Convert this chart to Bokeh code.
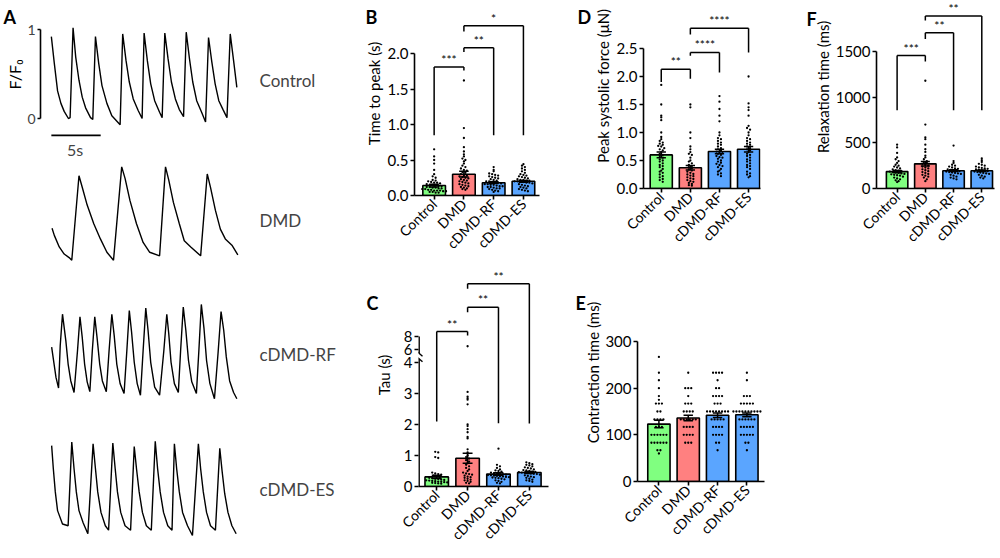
import math
from bokeh.plotting import figure
from bokeh.models import Range1d, FixedTicker, Label, Spacer
from bokeh.layouts import row, column
from bokeh.embed import file_html
from bokeh.resources import INLINE
from bokeh.core.properties import value

FONT = "Lato"
GROUPS = ["Control", "DMD", "cDMD-RF", "cDMD-ES"]
BAR_COLORS = ["#80FF80", "#FF8080", "#5AA5FF", "#5AA5FF"]

# ---------------- Panel A: calcium transients (time s, F/F0) ----------------
ctrl_t = [0.0, 0.3, 0.63, 0.97, 1.3, 1.73, 1.9, 2.2, 2.47, 2.8, 3.13, 3.47, 3.97, 4.2,
          4.47, 4.8, 5.13, 5.63, 6.13, 6.97, 7.23, 7.57, 7.9, 8.3, 8.8, 9.2, 9.4, 9.73,
          10.07, 10.47, 10.97, 11.23, 11.5, 11.83, 12.17, 12.57, 12.97, 13.4, 13.67, 14.0,
          14.33, 14.73, 15.23, 15.63, 15.93, 16.27, 16.6, 16.97, 17.4, 17.8, 18.13, 18.47, 18.8]
ctrl_v = [0.92, 0.62, 0.31, 0.17, 0.08, 0.0, 0.01, 1.02, 0.69, 0.43, 0.24, 0.12, 0.01, -0.01,
          0.92, 0.62, 0.37, 0.17, 0.03, -0.07, 0.95, 0.65, 0.41, 0.22, 0.09, 0.0, 0.96, 0.65,
          0.39, 0.2, 0.07, 0.01, 0.96, 0.67, 0.41, 0.22, 0.1, 0.02, 0.97, 0.67,
          0.41, 0.2, 0.07, -0.04, 0.91, 0.63, 0.39, 0.2, 0.1, 0.01, 0.95, 0.65, 0.35]
dmd_t = [0.07, 0.3, 0.8, 1.3, 1.8, 2.07, 2.8, 3.13, 3.63, 4.3, 4.97, 5.63, 6.3, 7.13, 7.47,
         7.97, 8.63, 9.3, 9.97, 10.97, 11.57, 11.9, 12.37, 12.97, 13.47, 14.13, 15.13, 15.8,
         16.13, 16.63, 17.13, 17.63, 18.3, 18.9]
dmd_v = [0.34, 0.26, 0.13, 0.05, 0.01, -0.02, 0.93, 0.8, 0.6, 0.39, 0.22, 0.07, -0.02, 1.03, 0.9,
         0.65, 0.39, 0.18, 0.07, 0.03, 1.03, 0.88, 0.63, 0.39, 0.2, 0.13, 0.03, 0.95,
         0.8, 0.54, 0.33, 0.22, 0.15, 0.04]
rf_t = [0.03, 0.47, 0.73, 0.9, 1.13, 1.47, 1.7, 1.97, 2.3, 2.65, 2.9, 3.13, 3.37, 3.63, 3.9,
        4.15, 4.4, 4.63, 4.9, 5.17, 5.57, 5.85, 6.13, 6.37, 6.63, 6.97, 7.37, 7.65, 7.9, 8.13,
        8.4, 8.7, 9.03, 9.3, 9.57, 9.8, 10.07, 10.47, 10.97, 11.4, 11.7, 11.9, 12.13, 12.47,
        12.87, 13.1, 13.37, 13.63, 13.9, 14.23, 14.7, 14.95, 15.2, 15.47, 15.73, 16.07, 16.53,
        16.9, 17.2, 17.47, 17.73, 18.07, 18.47, 18.8]
rf_v = [0.51, 0.17, 0.05, 0.53, 0.88, 0.58, 0.32, 0.13, 0.0, 0.47, 0.85, 0.62, 0.32, 0.12, 0.01,
        0.47, 0.85, 0.62, 0.32, 0.13, 0.01, 0.47, 0.88, 0.64, 0.32, 0.1, -0.01, 0.47, 0.92, 0.68,
        0.34, 0.1, -0.03, 0.47, 0.95, 0.7, 0.34, 0.06, -0.03, 0.47, 0.88, 0.66, 0.34, 0.1,
        0.0, 0.47, 0.96, 0.7, 0.36, 0.12, -0.01, 0.47, 0.99, 0.72, 0.36, 0.1, -0.07,
        0.45, 0.91, 0.7, 0.4, 0.13, 0.0, -0.07]
es_t = [0.03, 0.2, 0.4, 0.63, 1.13, 1.7, 2.07, 2.3, 2.53, 2.8, 3.23, 3.7, 4.23, 4.47, 4.7, 5.03,
        5.47, 5.8, 6.23, 6.47, 6.7, 7.03, 7.47, 8.03, 8.4, 8.63, 8.9, 9.23, 9.63, 10.13, 10.53,
        10.77, 11.03, 11.37, 11.8, 12.23, 12.47, 12.7, 12.97, 13.3, 13.8, 14.3, 14.9, 15.13,
        15.4, 15.73, 16.13, 16.63, 17.07, 17.3, 17.57, 17.9, 18.3, 18.73]
es_v = [0.92, 0.66, 0.4, 0.19, 0.04, 0.02, 0.96, 0.66, 0.4, 0.19, 0.05, -0.07, 0.94, 0.66, 0.4,
        0.17, 0.02, -0.03, 0.95, 0.66, 0.4, 0.17, 0.02, -0.03, 0.91, 0.66, 0.4, 0.17, 0.02,
        -0.03, 0.97, 0.66, 0.4, 0.17, 0.02, -0.03, 0.94, 0.66, 0.4, 0.17, 0.02, -0.09, 0.94,
        0.66, 0.4, 0.17, 0.02, -0.03, 0.89, 0.64, 0.38, 0.17, 0.02, -0.07]

# ---------------- Panel B: time to peak (s) ----------------
tpk_mean = [0.14, 0.30, 0.18, 0.20]
tpk_sem = [0.02, 0.04, 0.012, 0.012]
tpk_ctrl = [0.65, 0.55, 0.50, 0.45, 0.36, 0.30, 0.27, 0.25, 0.22, 0.21, 0.20, 0.19, 0.18, 0.18,
            0.17, 0.16, 0.15, 0.15, 0.14, 0.13, 0.13, 0.12, 0.12, 0.11, 0.11, 0.10, 0.10, 0.09,
            0.09, 0.08, 0.08, 0.07, 0.07, 0.07, 0.06, 0.06, 0.05, 0.05, 0.04, 0.04]
tpk_dmd = [1.62, 0.95, 0.81, 0.68, 0.62, 0.58, 0.55, 0.52, 0.50, 0.48, 0.45, 0.42, 0.40, 0.38,
           0.36, 0.35, 0.33, 0.32, 0.30, 0.29, 0.28, 0.27, 0.26, 0.25, 0.24, 0.23, 0.22, 0.21,
           0.20, 0.19, 0.18, 0.17, 0.16, 0.15, 0.14, 0.13, 0.12, 0.11, 0.10, 0.09, 0.08]
tpk_rf = [0.40, 0.36, 0.34, 0.31, 0.30, 0.29, 0.28, 0.27, 0.26, 0.25, 0.24, 0.23, 0.22, 0.21,
          0.20, 0.20, 0.19, 0.18, 0.18, 0.17, 0.16, 0.16, 0.15, 0.15, 0.14, 0.13, 0.13, 0.12,
          0.12, 0.11, 0.10, 0.10, 0.09, 0.08, 0.07, 0.06, 0.05]
tpk_es = [0.44, 0.42, 0.40, 0.38, 0.36, 0.34, 0.32, 0.30, 0.29, 0.28, 0.27, 0.26, 0.25, 0.24,
          0.23, 0.22, 0.22, 0.21, 0.21, 0.20, 0.20, 0.19, 0.19, 0.18, 0.18, 0.17, 0.16, 0.15,
          0.14, 0.13, 0.12, 0.11, 0.10, 0.09, 0.08, 0.07, 0.06]

# ---------------- Panel C: tau (s) ----------------
tau_mean = [0.31, 0.91, 0.40, 0.45]
tau_sem = [0.05, 0.16, 0.04, 0.03]
tau_ctrl = [1.12, 1.10, 0.95, 0.92, 0.45, 0.42, 0.40, 0.38, 0.35, 0.33, 0.30, 0.28, 0.27, 0.25,
            0.24, 0.22, 0.21, 0.20, 0.19, 0.18, 0.17, 0.16, 0.15, 0.14, 0.13, 0.12, 0.11, 0.10, 0.09]
tau_dmd = [6.5, 3.05, 2.9, 2.85, 2.8, 2.65, 2.0, 1.95, 1.85, 1.75, 1.6, 1.55, 1.2, 1.1, 1.0, 0.95,
           0.9, 0.85, 0.8, 0.75, 0.7, 0.65, 0.6, 0.55, 0.5, 0.45, 0.42, 0.4, 0.38, 0.35, 0.32,
           0.3, 0.28, 0.25, 0.22, 0.2, 0.18, 0.15, 0.12, 0.1]
tau_rf = [1.22, 0.70, 0.65, 0.60, 0.55, 0.52, 0.50, 0.48, 0.45, 0.43, 0.42, 0.40, 0.39, 0.38, 0.37,
          0.36, 0.35, 0.34, 0.33, 0.32, 0.31, 0.30, 0.29, 0.28, 0.27, 0.25, 0.23, 0.20, 0.18,
          0.15, 0.12, 0.10]
tau_es = [0.78, 0.75, 0.72, 0.70, 0.68, 0.65, 0.62, 0.60, 0.58, 0.55, 0.53, 0.52, 0.50, 0.48,
          0.47, 0.46, 0.45, 0.44, 0.43, 0.42, 0.41, 0.40, 0.38, 0.36, 0.34, 0.32, 0.30, 0.28,
          0.25, 0.22, 0.20, 0.18, 0.15]

# ---------------- Panel D: peak systolic force (uN) ----------------
frc_mean = [0.60, 0.37, 0.66, 0.70]
frc_sem = [0.05, 0.04, 0.04, 0.05]
frc_ctrl = [1.85, 1.5, 1.3, 1.27, 1.22, 1.0, 0.92, 0.88, 0.85, 0.82, 0.8, 0.78, 0.76, 0.75, 0.72,
            0.7, 0.68, 0.65, 0.62, 0.6, 0.58, 0.55, 0.52, 0.5, 0.48, 0.45, 0.42, 0.4, 0.38,
            0.35, 0.32, 0.3, 0.28, 0.25, 0.22, 0.2, 0.17, 0.15, 0.12]
frc_dmd = [1.5, 1.45, 1.0, 0.9, 0.75, 0.7, 0.65, 0.62, 0.6, 0.55, 0.5, 0.48, 0.45, 0.42, 0.4,
           0.38, 0.36, 0.34, 0.32, 0.3, 0.28, 0.26, 0.25, 0.23, 0.22, 0.2, 0.18, 0.17, 0.15,
           0.13, 0.12, 0.1, 0.08, 0.06, 0.05]
frc_rf = [1.65, 1.55, 1.42, 1.3, 1.2, 1.0, 0.95, 0.9, 0.88, 0.85, 0.82, 0.8, 0.78, 0.75, 0.72,
          0.7, 0.68, 0.66, 0.65, 0.63, 0.62, 0.6, 0.58, 0.56, 0.55, 0.53, 0.5, 0.48, 0.46,
          0.44, 0.42, 0.4, 0.38, 0.35, 0.32, 0.3, 0.27, 0.25, 0.22]
frc_es = [2.0, 1.52, 1.45, 1.4, 1.3, 1.12, 1.08, 1.05, 1.0, 0.95, 0.9, 0.88, 0.85, 0.82, 0.8,
          0.78, 0.75, 0.72, 0.7, 0.68, 0.65, 0.62, 0.6, 0.58, 0.55, 0.52, 0.5, 0.48, 0.45,
          0.42, 0.4, 0.38, 0.35, 0.3, 0.27, 0.25, 0.22, 0.2]

# ---------------- Panel E: contraction time (ms) ----------------
ctr_mean = [123, 136, 142, 143]
ctr_sem = [8, 6, 5, 4]
ctr_ctrl = [267, 233, 217, 200, 183, 175, 167, 167, 167, 150, 150, 133, 133, 133, 133, 117, 117,
            117, 100, 100, 100, 100, 100, 100, 83, 83, 83, 83, 83, 83, 67, 67, 60]
ctr_dmd = [233, 200, 200, 200, 183, 167, 167, 167, 150, 150, 150, 150, 133, 133, 133, 133, 133,
           133, 117, 117, 117, 117, 100, 100, 100, 100, 83, 83, 83]
ctr_rf = [233, 233, 233, 233, 217, 200, 200, 183, 183, 183, 183, 167, 167, 167, 150, 150, 150,
          150, 150, 150, 150, 150, 133, 133, 133, 133, 133, 117, 117, 117, 117, 100, 100, 100,
          100, 83, 83, 67]
ctr_es = [233, 217, 183, 183, 183, 167, 167, 167, 167, 167, 150, 150, 150, 150, 150, 150, 150,
          150, 150, 150, 133, 133, 133, 133, 133, 133, 117, 117, 117, 117, 117, 100, 100, 100,
          100, 100, 83, 83, 67]

# ---------------- Panel F: relaxation time (ms) ----------------
rlx_mean = [185, 270, 195, 195]
rlx_sem = [12, 25, 10, 8]
rlx_ctrl = [480, 450, 390, 340, 320, 300, 280, 260, 250, 240, 230, 220, 210, 200, 195, 190, 185,
            180, 175, 170, 165, 160, 155, 150, 145, 140, 130, 120, 110, 100, 90, 80, 70]
rlx_dmd = [1180, 700, 560, 540, 480, 430, 400, 360, 340, 320, 300, 290, 280, 270, 260, 250, 240,
           230, 220, 210, 200, 190, 180, 170, 160, 150, 140, 130, 120, 100, 80]
rlx_rf = [470, 300, 280, 260, 250, 240, 230, 220, 215, 210, 205, 200, 195, 190, 185, 180, 175,
          170, 165, 160, 150, 140, 130, 120, 110, 100]
rlx_es = [330, 310, 290, 270, 260, 250, 240, 230, 225, 220, 215, 210, 205, 200, 195, 190, 185,
          180, 175, 170, 165, 160, 150, 140, 130, 120, 110]


def brk(v):
    """Broken-axis mapping used in panel C (0-4 linear, gap, 6-8 compressed)."""
    return v if v <= 4 else 4 + 13 / 31 + (v - 6) * 13 / 62


def bare(p):
    p.xgrid.visible = False
    p.ygrid.visible = False
    p.outline_line_color = None


def plain_fig(w, h, xr, yr):
    p = figure(width=w, height=h, x_range=Range1d(*xr), y_range=Range1d(*yr),
               output_backend="svg", toolbar_location=None, title=None,
               x_axis_location=None, y_axis_location=None,
               min_border_left=0, min_border_right=0, min_border_top=0, min_border_bottom=0)
    bare(p)
    return p


def style_axes(p):
    for ax in (p.xaxis[0], p.yaxis[0]):
        ax.axis_line_width = 1.6
        ax.axis_line_color = "black"
        ax.major_tick_line_width = 1.6
        ax.major_tick_line_color = "black"
        ax.major_tick_in = 0
        ax.minor_tick_line_color = None
        ax.major_label_text_font = FONT
        ax.major_label_text_color = "black"
    bare(p)


def swarm(vals, center, bin_size, step):
    bins, order = {}, []
    for v in vals:
        b = round(v / bin_size)
        if b not in bins:
            bins[b] = []
            order.append(b)
        bins[b].append(v)
    xs, ys = [], []
    for b in order:
        vs = bins[b]
        n = len(vs)
        for i, v in enumerate(vs):
            xs.append(center + (i - (n - 1) / 2) * step)
            ys.append(v)
    return xs, ys


def bar_panel(fig_left, strip_right, axis_x, frame_right, fig_right, fig_top, fig_bot,
              axis_top, axis_bot, ylabel_x, xr, yr, yticks, ylabel, means, sems, groups_vals,
              brackets, letter, letter_xy, tick_over=None, yfun=lambda v: v, broken=False):
    strip_w = strip_right - fig_left
    W = fig_right - strip_right
    ml = axis_x - strip_right
    fw = frame_right - axis_x
    mr = W - ml - fw
    H = fig_bot - fig_top
    mb = fig_bot - axis_bot
    fh = axis_bot - fig_top
    dx = (xr[1] - xr[0]) / fw
    dy = (yr[1] - yr[0]) / (axis_bot - axis_top)
    y_frame_top = yr[0] + fh * dy

    main = figure(width=W, height=H, x_range=Range1d(*xr), y_range=Range1d(yr[0], y_frame_top),
                  output_backend="svg", toolbar_location=None, title=None,
                  min_border_left=ml, min_border_right=mr, min_border_top=0, min_border_bottom=mb)
    style_axes(main)

    xs = list(range(len(GROUPS)))
    main.vbar(x=xs, top=[yfun(m) for m in means], width=0.76, bottom=0, fill_color=BAR_COLORS,
              line_color="black", line_width=1.6)
    dxs, dys = [], []
    for i, vals in enumerate(groups_vals):
        a, b = swarm([yfun(v) for v in vals], i, 2.6 * dy, 3.0 * dx)
        dxs += a
        dys += b
    main.scatter(dxs, dys, size=2.3, color="black", line_width=0)
    lo = [yfun(m - s) for m, s in zip(means, sems)]
    hi = [yfun(m + s) for m, s in zip(means, sems)]
    cw = 0.16
    main.segment(x0=xs, y0=lo, x1=xs, y1=hi, line_color="black", line_width=1.5)
    main.segment(x0=[x - cw for x in xs], y0=hi, x1=[x + cw for x in xs], y1=hi,
                 line_color="black", line_width=1.5)
    main.segment(x0=[x - cw for x in xs], y0=lo, x1=[x + cw for x in xs], y1=lo,
                 line_color="black", line_width=1.5)

    ya = main.yaxis[0]
    ya.ticker = FixedTicker(ticks=yticks)
    if tick_over:
        ya.major_label_overrides = tick_over
    ya.major_label_text_font_size = "15px"
    ya.major_tick_out = 4
    ya.major_label_standoff = 2
    ya.bounds = (yr[0], yr[1])
    xa = main.xaxis[0]
    xa.ticker = FixedTicker(ticks=xs)
    xa.major_label_overrides = {i: g for i, g in enumerate(GROUPS)}
    xa.major_label_orientation = math.pi / 4
    xa.major_label_text_font_size = "14px"
    xa.major_tick_out = 4
    xa.major_label_standoff = 2

    if broken:
        ya.axis_line_color = None
        ax0 = xr[0] + 0.5 * dx
        main.segment(x0=[ax0, ax0], y0=[0, 4.30], x1=[ax0, ax0], y1=[4.12, yr[1]],
                     line_color="black", line_width=1.8)
        main.segment(x0=[xr[0] - 3 * dx, xr[0] - 3 * dx], y0=[4.30 + 3 * dy, 4.12 + 3 * dy],
                     x1=[xr[0] + 4 * dx, xr[0] + 4 * dx], y1=[4.30 - 3 * dy, 4.12 - 3 * dy],
                     line_color="black", line_width=1.4)

    bx0, by0, bx1, by1 = [], [], [], []
    for (i, j, ytop, li, lj, txt) in brackets:
        for s in ((i, ytop, j, ytop), (i, ytop, i, li), (j, ytop, j, lj)):
            bx0.append(s[0]); by0.append(s[1]); bx1.append(s[2]); by1.append(s[3])
        main.text(x=[(i + j) / 2], y=[ytop], text=[txt], text_align="center",
                  text_baseline="bottom", text_font=value(FONT), text_font_size="12px",
                  text_color="black")
    if bx0:
        main.segment(x0=bx0, y0=by0, x1=bx1, y1=by1, line_color="black", line_width=1.5)

    # left strip: panel letter and y-axis title (page-pixel coordinates)
    strip = plain_fig(strip_w, H, (fig_left, strip_right), (fig_bot, fig_top))
    strip.text(x=[letter_xy[0]], y=[letter_xy[1]], text=[letter], text_font=value(FONT),
               text_font_style="bold", text_font_size="18px", text_align="left",
               text_baseline="top", text_color="black")
    strip.text(x=[ylabel_x], y=[(axis_top + axis_bot) / 2], text=[ylabel], text_font=value(FONT),
               text_font_size="15px", text_align="center", text_baseline="middle",
               angle=math.pi / 2, text_color="black")
    return row(strip, main, spacing=0)


# ---------------- Panel A ----------------
A_W = 336
A_LEFT = 24
pa_left = plain_fig(A_LEFT, 558, (0, A_LEFT), (558, 0))
pa_left.text(x=[3], y=[5], text=["A"], text_font=value(FONT), text_font_style="bold",
             text_font_size="18px", text_align="left", text_baseline="top", text_color="black")
pa_left.text(x=[13.5], y=[74], text=["F/F\u2080"], text_font=value(FONT), text_font_size="16px",
             text_align="center", text_baseline="middle", angle=math.pi / 2, text_color="black")

pa = figure(width=A_W - A_LEFT, height=558, x_range=Range1d(-1.1, 28.9),
            y_range=Range1d(-4.944, 1.326), output_backend="svg", toolbar_location=None,
            title=None, x_axis_location=None,
            min_border_left=36 - A_LEFT, min_border_right=0, min_border_top=0, min_border_bottom=0)
bare(pa)
ya = pa.yaxis[0]
ya.ticker = FixedTicker(ticks=[0, 1])
ya.bounds = (0, 1)
ya.axis_line_width = 1.6
ya.major_tick_line_width = 1.6
ya.major_tick_in = 0
ya.major_tick_out = 3
ya.minor_tick_line_color = None
ya.major_label_text_font = FONT
ya.major_label_text_font_size = "14px"
ya.major_label_standoff = 2

trace_offsets = [0.0, -1.573, -3.079, -4.596]
traces = [(ctrl_t, ctrl_v), (dmd_t, dmd_v), (rf_t, rf_v), (es_t, es_v)]
for (tt, vv), off, name in zip(traces, trace_offsets, GROUPS):
    pa.line(tt, [v + off for v in vv], line_color="black", line_width=1.4)
    pa.add_layout(Label(x=21.1, y=off + 0.43, text=name, text_font=FONT,
                        text_font_size="17px", text_baseline="middle", text_align="left"))
pa.line([0, 5], [-0.19, -0.19], line_color="black", line_width=1.6)
pa.add_layout(Label(x=2.4, y=-0.24, text="5s", text_font=FONT, text_font_size="16px",
                    text_align="center", text_baseline="top"))

panelA = row(pa_left, pa, spacing=0)

# ---------------- Bar panels ----------------
pB = bar_panel(336, 384, 413, 539, 560, 0, 260, 53, 195, 373, (-0.66, 3.54), (0, 2.0),
               [0, 0.5, 1.0, 1.5, 2.0], "Time to peak (s)", tpk_mean, tpk_sem,
               [tpk_ctrl, tpk_dmd, tpk_rf, tpk_es],
               [(0, 1, 1.81, 0.85, 1.76, "***"), (1, 2, 2.08, 2.02, 0.85, "**"),
                (1, 3, 2.39, 2.31, 0.85, "*")],
               "B", (365, 7),
               tick_over={0: "0.0", 0.5: "0.5", 1.0: "1.0", 1.5: "1.5", 2.0: "2.0"})

pC = bar_panel(336, 393, 418, 548, 560, 260, 558, 336, 486, 383, (-0.59, 3.62), (0, brk(8)),
               [0, 1, 2, 3, 4, brk(6), brk(8)], "Tau (s)", tau_mean, tau_sem,
               [tau_ctrl, tau_dmd, tau_rf, tau_es],
               [(0, 1, 5.0, 2.1, 4.87, "**"), (1, 2, 5.78, 5.62, 2.04, "**"),
                (1, 3, 6.54, 6.38, 2.03, "**")],
               "C", (366, 302), tick_over={brk(6): "6", brk(8): "8"}, yfun=brk, broken=True)

pD = bar_panel(560, 612, 643, 760, 790, 0, 260, 48, 188, 602, (-0.61, 3.41), (0, 2.5),
               [0, 0.5, 1.0, 1.5, 2.0, 2.5], "Peak systolic force (\u03bcN)", frc_mean, frc_sem,
               [frc_ctrl, frc_dmd, frc_rf, frc_es],
               [(0, 1, 2.13, 1.9, 1.96, "**"), (1, 2, 2.43, 2.37, 2.07, "****"),
                (1, 3, 2.86, 2.75, 2.43, "****")],
               "D", (577, 7),
               tick_over={0: "0.0", 0.5: "0.5", 1.0: "1.0", 1.5: "1.5", 2.0: "2.0", 2.5: "2.5"})

pE = bar_panel(560, 602, 637, 764, 790, 260, 558, 341, 481, 592, (-0.73, 3.6), (0, 300),
               [0, 100, 200, 300], "Contraction time (ms)", ctr_mean, ctr_sem,
               [ctr_ctrl, ctr_dmd, ctr_rf, ctr_es], [], "E", (575, 302))

pF = bar_panel(790, 832, 873, 994, 1000, 0, 260, 51, 188, 822, (-0.73, 3.45), (0, 1500),
               [0, 500, 1000, 1500], "Relaxation time (ms)", rlx_mean, rlx_sem,
               [rlx_ctrl, rlx_dmd, rlx_rf, rlx_es],
               [(0, 1, 1456, 856, 1391, "***"), (1, 2, 1704, 1638, 856, "**"),
                (1, 3, 1890, 1840, 856, "**")],
               "F", (806, 10))

layout = row(panelA, column(pB, pC, spacing=0), column(pD, pE, spacing=0),
             column(pF, Spacer(width=210, height=298), spacing=0), spacing=0)

open("out.html", "w").write(file_html(layout, INLINE))
